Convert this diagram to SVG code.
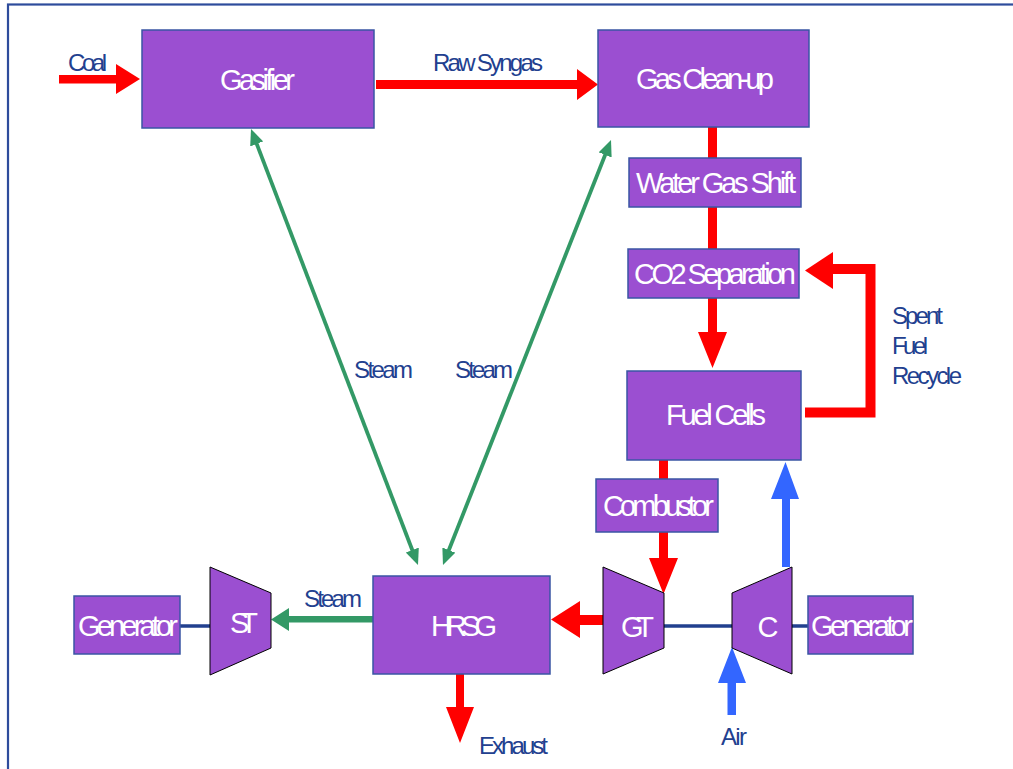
<svg xmlns="http://www.w3.org/2000/svg" width="1013" height="769" viewBox="0 0 1013 769">
<defs>
<style>
.box{fill:#9B4FD1;stroke:#3A55A4;stroke-width:1.5}
.trap{fill:#9B4FD1;stroke:#000;stroke-width:1}
.nl{font-family:"Liberation Sans",Arial,sans-serif;font-size:29px;fill:#fff}
.bl{font-family:"Liberation Sans",Arial,sans-serif;font-size:24px;fill:#22408F}
.red{fill:#FF0000}
.blue{fill:#3366FF}
.green{fill:#339966}
.shaft{stroke:#22408F;stroke-width:3.5;fill:none}
.gline{stroke:#339966;stroke-width:3.8;fill:none;marker-start:url(#gh);marker-end:url(#gh)}
</style>
<marker id="gh" viewBox="0 0 16 14" refX="4" refY="7" markerWidth="16" markerHeight="14" markerUnits="userSpaceOnUse" orient="auto-start-reverse">
<path d="M0,0 L16,7 L0,14 Z" fill="#339966"/>
</marker>
</defs>
<rect x="8" y="4.5" width="1030" height="790" fill="none" stroke="#2E4C9C" stroke-width="2.2"/>

<g id="connectors">
<polygon class="red" points="59,75 116,75 116,64 140,79 116,94 116,83.5 59,83.5"/>
<polygon class="red" points="376,80 577,80 577,69 598,84.5 577,100 577,89 376,89"/>
<rect class="red" x="708" y="127" width="9" height="31"/>
<rect class="red" x="708" y="207" width="9" height="42"/>
<polygon class="red" points="708,298 717,298 717,332 727,332 712.5,368 698,332 708,332"/>
<path d="M805,412.5 H870.5 V269 H833" fill="none" stroke="#FF0000" stroke-width="10"/>
<polygon class="red" points="833,252 805,270.5 833,289"/>
<rect class="red" x="659" y="460" width="9" height="19"/>
<polygon class="red" points="659,532 668,532 668,558 678,558 663.5,594 649,558 659,558"/>
<polygon class="red" points="603,615 580,615 580,601 551,619.5 580,638 580,625 603,625"/>
<polygon class="red" points="456,674 464,674 464,707 474,707 460,743 446,707 456,707"/>
<polygon class="blue" points="782,567 790,567 790,499 799,499 785.5,462 771,499 782,499"/>
<polygon class="blue" points="727.5,715 736,715 736,683 746,683 732,647 718,683 727.5,683"/>
<polygon class="green" points="373,616 289,616 289,608 271,619.5 289,631 289,622.5 373,622.5"/>
<line class="gline" x1="255.3" y1="140.2" x2="413.7" y2="553.8"/>
<line class="gline" x1="606.6" y1="151.2" x2="447.4" y2="553.8"/>
<line class="shaft" x1="180" y1="626" x2="210" y2="626"/>
<line class="shaft" x1="664" y1="626" x2="732" y2="626"/>
<line class="shaft" x1="792" y1="626" x2="808" y2="626"/>
</g>

<g id="labels">
<text class="bl" x="68" y="71" textLength="39" lengthAdjust="spacing">Coal</text>
<text class="bl" x="433" y="71" textLength="110" lengthAdjust="spacing">Raw Syngas</text>
<text class="bl" x="354" y="378" textLength="59" lengthAdjust="spacing">Steam</text>
<text class="bl" x="455" y="378" textLength="58" lengthAdjust="spacing">Steam</text>
<text class="bl" x="892" y="324" textLength="51" lengthAdjust="spacing">Spent</text>
<text class="bl" x="892" y="354" textLength="36" lengthAdjust="spacing">Fuel</text>
<text class="bl" x="892" y="384" textLength="70" lengthAdjust="spacing">Recycle</text>
<text class="bl" x="304" y="607" textLength="58" lengthAdjust="spacing">Steam</text>
<text class="bl" x="479" y="754" textLength="69" lengthAdjust="spacing">Exhaust</text>
<text class="bl" x="721" y="745" textLength="26" lengthAdjust="spacing">Air</text>
</g>

<g id="gasifier">
<rect class="box" x="142" y="30" width="232" height="98"/>
<text class="nl" x="220" y="90" textLength="75" lengthAdjust="spacing">Gasifier</text>
</g>
<g id="gas-cleanup">
<rect class="box" x="598" y="30" width="211" height="97"/>
<text class="nl" x="636" y="89" textLength="138" lengthAdjust="spacing">Gas Clean-up</text>
</g>
<g id="water-gas-shift">
<rect class="box" x="629" y="158" width="172" height="49"/>
<text class="nl" x="636" y="193" textLength="160" lengthAdjust="spacing">Water Gas Shift</text>
</g>
<g id="co2-separation">
<rect class="box" x="628" y="249" width="171" height="49"/>
<text class="nl" x="634" y="284" textLength="162" lengthAdjust="spacing">CO2 Separation</text>
</g>
<g id="fuel-cells">
<rect class="box" x="627" y="371" width="174" height="89"/>
<text class="nl" x="666" y="425" textLength="100" lengthAdjust="spacing">Fuel Cells</text>
</g>
<g id="combustor">
<rect class="box" x="596" y="479" width="122" height="53"/>
<text class="nl" x="603" y="516" textLength="111" lengthAdjust="spacing">Combustor</text>
</g>
<g id="gt">
<polygon class="trap" points="603,567 664,593 664,648 603,674"/>
<text class="nl" x="621" y="637" textLength="33" lengthAdjust="spacing">GT</text>
</g>
<g id="c">
<polygon class="trap" points="732,593 792,567 792,674 732,648"/>
<text class="nl" x="768" y="637" text-anchor="middle">C</text>
</g>
<g id="generator-right">
<rect class="box" x="808" y="596" width="105" height="58"/>
<text class="nl" x="811" y="636" textLength="102" lengthAdjust="spacing">Generator</text>
</g>
<g id="hrsg">
<rect class="box" x="373" y="576" width="177" height="98"/>
<text class="nl" x="431" y="636" textLength="66" lengthAdjust="spacing">HRSG</text>
</g>
<g id="st">
<polygon class="trap" points="210,567 271,593 271,648 210,675"/>
<text class="nl" x="230" y="633" textLength="28" lengthAdjust="spacing">ST</text>
</g>
<g id="generator-left">
<rect class="box" x="74" y="596" width="106" height="58"/>
<text class="nl" x="78" y="636" textLength="100" lengthAdjust="spacing">Generator</text>
</g>
</svg>
